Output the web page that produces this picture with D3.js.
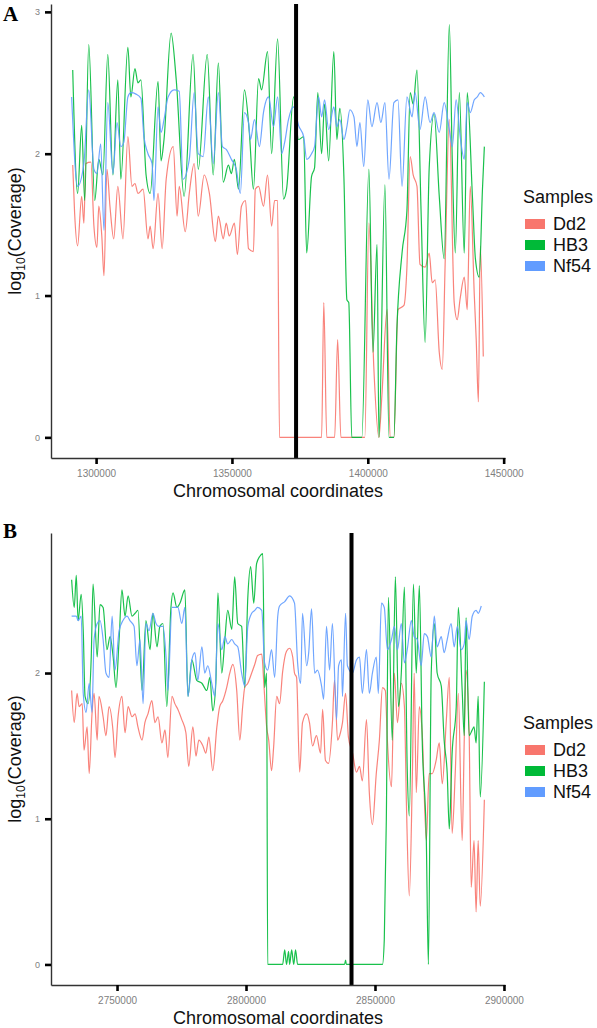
<!DOCTYPE html>
<html><head><meta charset="utf-8">
<script src="https://cdn.jsdelivr.net/npm/d3@7"></script>
<style>body{margin:0;background:#fff;} svg{display:block;}</style>
</head><body>
<svg id="chart" width="597" height="1028"></svg>
<script>
// ---------- DATA ----------
const samples = ["Dd2", "HB3", "Nf54"];
const sampleColors = ["#F8766D", "#00BA38", "#619CFF"];

const xTicksA = [1300000, 1350000, 1400000, 1450000];
const yTicksA = [0, 1, 2, 3];
const markerA = 1373600;

const xTicksB = [2750000, 2800000, 2850000, 2900000];
const yTicksB = [0, 1, 2];
const markerB = 2840900;

// [chromosomal coordinate, log10(coverage)]
const dd2A = [[1291400,1.92],[1292100,1.58],[1293200,1.35],[1294700,1.70],[1295500,1.51],[1296200,1.93],[1298100,1.94],[1299200,1.49],[1300300,1.34],[1301000,1.63],[1302100,1.42],[1302900,1.14],[1304000,1.89],[1305100,1.63],[1306500,1.40],[1308000,1.77],[1309900,1.40],[1311700,2.12],[1313200,1.77],[1314300,1.79],[1315400,1.72],[1317300,1.75],[1319100,1.40],[1319900,1.49],[1321000,1.33],[1322800,1.72],[1324300,1.33],[1325800,1.82],[1328400,2.05],[1329800,1.56],[1330600,1.77],[1332800,1.45],[1334300,1.72],[1336100,1.93],[1337600,1.56],[1339800,1.85],[1341700,1.72],[1343900,1.38],[1345000,1.56],[1346800,1.40],[1347900,1.51],[1349000,1.42],[1350900,1.51],[1352000,1.29],[1353500,1.63],[1355000,1.67],[1356100,1.33],[1357900,1.31],[1358600,1.75],[1359800,1.77],[1361600,1.63],[1363100,1.85],[1364600,1.49],[1365700,1.67],[1366800,1.67],[1367500,0],[1383000,0],[1383800,0.95],[1384900,0],[1387800,0],[1388900,0.69],[1390100,0],[1398900,0],[1400400,1.51],[1402200,0.50],[1404100,0],[1405200,0.30],[1407100,0.90],[1408200,0],[1409600,0],[1411100,0.90],[1413300,0.93],[1414400,1.20],[1415600,1.98],[1416700,1.85],[1418100,1.77],[1419200,1.22],[1421100,1.20],[1422600,1.30],[1423700,1.09],[1424800,1.11],[1426300,0.60],[1427400,0.48],[1428500,1.25],[1430000,2.24],[1431800,0.95],[1432900,0.83],[1434000,0.98],[1435500,1.13],[1436600,0.90],[1437700,1.77],[1439200,1.00],[1439900,0.69],[1440700,0.25],[1441400,1.35],[1442500,0.57]];

const hb3A = [[1291400,2.59],[1293200,1.72],[1294700,2.20],[1295800,1.67],[1297300,2.77],[1299500,1.67],[1301000,1.96],[1302500,1.85],[1304300,2.70],[1306200,1.85],[1308000,2.52],[1309100,1.82],[1311700,2.75],[1312800,2.40],[1314300,2.60],[1315400,2.50],[1316500,2.52],[1318400,1.85],[1319900,1.72],[1322800,2.51],[1323900,1.95],[1325000,2.10],[1327600,2.85],[1329500,2.52],[1332400,1.70],[1335700,2.70],[1337600,1.89],[1340900,2.70],[1343100,1.85],[1345000,2.64],[1346800,1.80],[1348700,1.92],[1349800,1.86],[1350900,1.96],[1352400,1.75],[1354600,2.45],[1356400,2.15],[1357900,1.75],[1359800,2.53],[1360900,2.45],[1363100,2.72],[1364600,2.00],[1366800,2.81],[1369000,1.68],[1370100,1.75],[1372700,2.40],[1374500,2.10],[1376400,2.12],[1377500,1.30],[1379300,1.84],[1380400,1.90],[1381600,2.43],[1383000,2.00],[1384100,2.35],[1385600,1.95],[1387500,2.72],[1388600,2.10],[1389700,2.32],[1391200,1.84],[1392300,0.97],[1393000,0.95],[1394100,0],[1397800,0],[1400400,1.89],[1401900,0.60],[1403400,1.36],[1404100,0],[1406300,1.78],[1407800,0],[1409600,0],[1410700,0.76],[1412600,1.30],[1414400,1.60],[1415600,2.43],[1416700,2.35],[1418100,2.59],[1419600,1.60],[1421100,0.67],[1422600,1.90],[1424400,2.28],[1426300,1.70],[1428100,1.26],[1430000,2.91],[1431100,1.95],[1432200,1.30],[1433700,2.43],[1435500,1.30],[1436600,2.43],[1438500,1.70],[1439600,1.26],[1441000,1.13],[1442200,1.75],[1442900,2.05]];

const nf54A = [[1291000,2.40],[1293200,1.77],[1295500,1.93],[1297300,2.45],[1299200,1.89],[1300300,1.86],[1301700,2.07],[1302900,1.46],[1304300,2.36],[1306200,1.86],[1307700,2.22],[1309100,2.05],[1310200,2.08],[1311700,2.40],[1312800,2.43],[1314700,2.42],[1316500,2.39],[1317600,2.12],[1319100,2.00],[1320600,1.93],[1321300,1.67],[1322800,2.33],[1323900,2.15],[1325000,2.24],[1326500,2.40],[1328700,2.45],[1330600,2.44],[1332000,1.82],[1334300,1.96],[1336100,2.43],[1337600,2.00],[1339400,1.98],[1341300,2.40],[1343100,1.93],[1345000,2.43],[1346500,2.05],[1347900,2.03],[1349800,1.96],[1351600,1.89],[1353100,1.72],[1354600,2.29],[1356100,2.22],[1356800,2.10],[1358300,2.24],[1360100,2.05],[1361600,2.29],[1363500,2.40],[1365300,2.19],[1366800,2.40],[1368300,2.00],[1369400,2.08],[1370800,2.24],[1372700,2.33],[1374500,2.20],[1376400,2.12],[1377500,1.96],[1379300,2.00],[1380400,2.05],[1381900,2.40],[1383000,2.26],[1384100,2.38],[1385600,2.17],[1387500,2.33],[1388600,2.19],[1389700,2.24],[1391200,2.10],[1392300,2.19],[1393400,2.31],[1394900,2.26],[1396000,2.05],[1397100,2.22],[1398500,1.91],[1400000,2.38],[1401500,2.19],[1403400,2.36],[1404800,2.22],[1406300,2.36],[1407800,1.82],[1409600,2.36],[1411100,2.38],[1412600,1.77],[1414400,2.40],[1416300,2.26],[1417400,2.43],[1419200,2.17],[1421100,2.40],[1422900,2.22],[1424400,2.29],[1426300,2.15],[1428100,2.36],[1430000,2.17],[1431100,2.05],[1432500,2.38],[1434000,2.12],[1435500,1.96],[1436600,2.36],[1437700,2.29],[1439200,2.38],[1440300,2.40],[1441400,2.43],[1442900,2.40]];

const dd2B = [[2732400,1.88],[2733400,1.66],[2734500,1.86],[2735300,1.77],[2736500,1.79],[2737200,1.47],[2738400,1.63],[2739200,1.31],[2740300,1.72],[2741100,1.86],[2742300,1.54],[2743000,1.84],[2744600,1.70],[2745700,1.57],[2746900,1.77],[2748500,1.59],[2749200,1.42],[2750400,1.70],[2751900,1.84],[2753100,1.59],[2754300,1.77],[2755800,1.70],[2757000,1.72],[2758100,1.63],[2759700,1.54],[2760800,1.66],[2762000,1.72],[2763500,1.81],[2764700,1.66],[2765900,1.70],[2767400,1.52],[2768600,1.61],[2769700,1.42],[2771300,1.84],[2772400,1.79],[2773600,1.75],[2775100,1.68],[2776700,1.59],[2777800,1.36],[2779400,1.63],[2780600,1.43],[2781700,1.54],[2783300,1.50],[2784400,1.45],[2785600,1.56],[2787100,1.33],[2788700,1.63],[2789800,1.77],[2791000,1.81],[2792500,1.90],[2793700,2.00],[2794900,2.06],[2796400,1.88],[2797600,1.54],[2798700,1.77],[2799500,1.90],[2800700,1.93],[2802200,2.00],[2803400,2.06],[2804500,2.12],[2806100,2.13],[2806900,1.93],[2808000,1.63],[2808800,1.54],[2809900,1.33],[2810700,1.49],[2811900,1.84],[2813000,1.79],[2814200,2.01],[2815700,2.15],[2816900,2.17],[2818100,2.11],[2818800,2.00],[2819600,1.97],[2820800,1.32],[2821900,1.66],[2823500,1.72],[2824600,1.66],[2825800,1.50],[2827300,1.57],[2828900,1.45],[2829700,1.75],[2830800,1.40],[2832000,1.38],[2833500,1.66],[2834300,1.95],[2835500,1.54],[2836600,1.59],[2837400,1.66],[2838600,1.86],[2839700,1.56],[2841300,1.45],[2842800,1.32],[2844000,1.36],[2845100,1.26],[2846700,1.68],[2847800,1.18],[2849000,0.96],[2850500,1.31],[2851700,1.54],[2852900,1.90],[2854000,1.88],[2854800,1.54],[2856400,1.22],[2857500,2.00],[2858700,1.66],[2860200,1.93],[2861400,1.77],[2862200,1.09],[2863300,0.47],[2864500,1.31],[2865200,2.00],[2866000,1.18],[2867200,1.77],[2868300,1.59],[2869900,0.85],[2871000,1.31],[2872200,1.31],[2873700,1.40],[2874900,1.52],[2876100,1.24],[2877600,1.66],[2878800,1.97],[2879900,0.90],[2881100,1.31],[2882300,1.86],[2883800,0.85],[2884600,1.54],[2885300,2.02],[2886500,1.59],[2887300,0.53],[2888400,0.85],[2889200,0.36],[2890000,0.85],[2890800,0.40],[2892400,1.13]];

const hb3B = [[2732400,2.64],[2733400,2.45],[2734200,2.67],[2734900,2.36],[2736100,2.54],[2736900,2.29],[2737600,1.84],[2738800,1.79],[2740000,2.11],[2740700,2.61],[2742300,2.11],[2743400,2.47],[2744600,2.45],[2746100,2.16],[2747300,2.25],[2748500,2.11],[2749600,1.90],[2750800,2.23],[2751900,2.57],[2753100,2.39],[2754300,2.53],[2755800,2.39],[2757000,2.41],[2758100,2.43],[2759700,1.88],[2761200,2.36],[2762800,2.16],[2763900,2.41],[2765500,2.18],[2766600,2.32],[2767800,2.34],[2769300,1.77],[2770900,2.45],[2771700,2.55],[2773200,2.45],[2774400,2.48],[2776300,2.57],[2777500,1.84],[2779000,2.09],[2780900,1.95],[2782900,1.93],[2784800,1.88],[2786000,1.97],[2787100,1.74],[2788300,1.93],[2789100,2.55],[2790600,2.00],[2791800,2.23],[2792900,2.43],[2794500,2.30],[2795600,2.66],[2796800,2.34],[2798300,2.32],[2799500,1.90],[2800700,2.52],[2801800,2.73],[2803000,2.48],[2804100,2.75],[2805300,2.80],[2806500,2.82],[2807200,1.90],[2808000,2.00],[2808400,0],[2814200,0],[2815000,0.10],[2815700,0],[2816500,0.09],[2816900,0],[2817700,0.10],[2818500,0],[2819200,0.10],[2820000,0],[2838200,0],[2838600,0.03],[2838900,0],[2852900,0],[2853600,0.17],[2854400,1.00],[2855200,2.52],[2856700,1.54],[2857900,2.66],[2859100,1.77],[2860200,2.00],[2861400,2.59],[2862500,1.34],[2863300,1.02],[2864900,2.61],[2866000,2.00],[2867200,2.60],[2868300,1.54],[2869900,0.85],[2870700,0],[2871800,2.00],[2873000,2.34],[2874100,2.00],[2875700,1.91],[2876800,1.54],[2878000,1.31],[2878800,0.93],[2879900,1.45],[2881500,1.77],[2882300,2.45],[2883800,1.88],[2884600,1.57],[2885300,2.38],[2886500,1.57],[2887700,1.61],[2888400,1.63],[2889200,1.52],[2890000,1.84],[2890800,1.15],[2892400,1.94]];

const nf54B = [[2732400,2.39],[2734200,2.39],[2734900,2.36],[2736100,2.39],[2736900,1.86],[2738000,1.73],[2739200,1.93],[2740300,1.73],[2741100,2.23],[2742300,2.34],[2743400,2.36],[2744600,2.23],[2745700,2.00],[2746900,1.97],[2748100,2.39],[2749200,2.02],[2750800,2.29],[2752300,2.36],[2753900,2.39],[2755000,2.36],[2756600,2.32],[2757700,2.05],[2758900,2.23],[2760100,1.79],[2761200,2.34],[2762400,2.29],[2763900,2.41],[2765100,2.34],[2766200,2.32],[2767800,2.32],[2769000,2.11],[2769700,1.88],[2771300,2.45],[2772400,2.45],[2773600,2.45],[2775100,2.34],[2776300,2.45],[2777500,1.84],[2779000,2.09],[2780200,2.14],[2781300,1.95],[2782900,2.18],[2784000,2.00],[2785200,2.05],[2786700,1.93],[2787900,1.84],[2789100,2.34],[2790600,2.16],[2791800,2.25],[2792900,2.20],[2794500,2.23],[2795600,2.20],[2796800,2.18],[2798300,2.00],[2799500,1.91],[2800700,2.32],[2802200,2.41],[2803400,2.43],[2804500,2.45],[2806100,2.43],[2807200,2.07],[2808400,2.02],[2809900,2.16],[2811100,1.97],[2812300,2.39],[2813000,2.46],[2815000,2.49],[2816900,2.53],[2818800,2.48],[2820000,2.07],[2821200,1.93],[2821900,2.41],[2823500,2.05],[2824300,2.14],[2825400,2.44],[2826600,2.00],[2827700,2.02],[2829300,1.91],[2830100,1.82],[2831200,2.32],[2832400,2.02],[2833500,2.34],[2835100,1.68],[2835900,2.05],[2837000,2.09],[2837400,1.84],[2838600,2.41],[2839300,2.05],[2841300,2.00],[2842800,2.09],[2844000,2.11],[2845100,1.86],[2846700,2.16],[2847800,1.86],[2849000,2.00],[2850500,2.11],[2851300,1.86],[2852500,2.48],[2853600,2.45],[2854800,2.16],[2856400,2.23],[2857500,2.32],[2858700,2.16],[2860200,2.34],[2861400,2.07],[2862500,2.16],[2864100,2.36],[2865200,2.25],[2866400,2.23],[2867900,2.05],[2869100,2.27],[2870300,2.25],[2871800,2.11],[2873000,2.39],[2874100,2.18],[2875700,2.25],[2876800,2.14],[2878000,2.23],[2879500,2.34],[2880700,2.18],[2881900,2.32],[2883400,2.16],[2884600,2.20],[2885300,2.36],[2886500,2.23],[2887700,2.39],[2889200,2.43],[2890000,2.41],[2891200,2.46]];

// ---------- DRAWING ----------
const svg = d3.select("#chart");
const SANS = "'Liberation Sans', Arial, Helvetica, sans-serif";
const SERIF = "'Liberation Serif', 'Times New Roman', serif";

function expand(ext) { const r = ext[1] - ext[0]; return [ext[0] - 0.05 * r, ext[1] + 0.05 * r]; }

function drawPanel(cfg) {
  const g = svg.append("g");
  const all = cfg.series.flat();
  const x = d3.scaleLinear().domain(expand(d3.extent(all, d => d[0]))).range([cfg.left, cfg.right]);
  const y = d3.scaleLinear().domain(expand(d3.extent(all, d => d[1]))).range([cfg.bottom, cfg.top]);

  const line = d3.line().curve(d3.curveMonotoneX).x(d => x(d[0])).y(d => y(d[1]));
  cfg.series.forEach((s, i) => {
    g.append("path").datum(s)
      .attr("d", line)
      .attr("fill", "none")
      .attr("stroke", sampleColors[i])
      .attr("stroke-width", 1.2)
      .attr("stroke-linejoin", "round")
      .attr("opacity", 0.9);
  });

  // marker line
  g.append("line")
    .attr("x1", x(cfg.marker)).attr("x2", x(cfg.marker))
    .attr("y1", cfg.top).attr("y2", cfg.bottom)
    .attr("stroke", "#000").attr("stroke-width", 4);

  // axes
  const xa = g.append("g").attr("transform", `translate(0,${cfg.bottom})`)
    .call(d3.axisBottom(x).tickValues(cfg.xTicks).tickFormat(d3.format("d")).tickSize(6).tickSizeOuter(0).tickPadding(6));
  const ya = g.append("g").attr("transform", `translate(${cfg.left},0)`)
    .call(d3.axisLeft(y).tickValues(cfg.yTicks).tickFormat(d3.format("d")).tickSize(6).tickSizeOuter(0).tickPadding(5));
  [xa, ya].forEach(a => {
    a.select(".domain").attr("stroke", "#333").attr("stroke-width", 1.4);
    a.selectAll(".tick line").attr("stroke", "#000").attr("stroke-width", 2.6);
    a.selectAll(".tick text").attr("fill", "#808080").attr("font-family", SANS);
  });
  xa.selectAll(".tick text").attr("font-size", 10);
  ya.selectAll(".tick text").attr("font-size", 9);

  // axis titles
  g.append("text")
    .attr("x", (cfg.left + cfg.right) / 2).attr("y", cfg.bottom + 39)
    .attr("text-anchor", "middle").attr("font-family", SANS).attr("font-size", 18).attr("fill", "#111")
    .text("Chromosomal coordinates");
  const yt = g.append("text")
    .attr("transform", `translate(21,${(cfg.top + cfg.bottom) / 2}) rotate(-90)`)
    .attr("text-anchor", "middle").attr("font-family", SANS).attr("font-size", 18).attr("fill", "#111");
  yt.append("tspan").text("log");
  yt.append("tspan").attr("font-size", 12).attr("dy", 4).text("10");
  yt.append("tspan").attr("dy", -4).text("(Coverage)");

  // panel letter
  g.append("text").attr("x", 3).attr("y", cfg.letterY)
    .attr("font-family", SERIF).attr("font-weight", "bold").attr("font-size", 21).attr("fill", "#000")
    .text(cfg.letter);

  // legend
  const lg = g.append("g");
  lg.append("text").attr("x", 523).attr("y", cfg.legendTitleY)
    .attr("font-family", SANS).attr("font-size", 18).attr("fill", "#111").text("Samples");
  samples.forEach((name, i) => {
    const cy = cfg.legendItemY + i * cfg.legendStep;
    lg.append("rect").attr("x", 525).attr("y", cy - 5).attr("width", 20).attr("height", 10)
      .attr("fill", sampleColors[i]);
    lg.append("text").attr("x", 553).attr("y", cy + 6)
      .attr("font-family", SANS).attr("font-size", 18).attr("fill", "#111").text(name);
  });
}

drawPanel({
  series: [dd2A, hb3A, nf54A], xTicks: xTicksA, yTicks: yTicksA, marker: markerA,
  left: 51, right: 505, top: 4, bottom: 458,
  letter: "A", letterY: 21,
  legendTitleY: 203, legendItemY: 224, legendStep: 21
});
drawPanel({
  series: [dd2B, hb3B, nf54B], xTicks: xTicksB, yTicks: yTicksB, marker: markerB,
  left: 51, right: 505, top: 533, bottom: 985,
  letter: "B", letterY: 538,
  legendTitleY: 729, legendItemY: 750, legendStep: 21
});
</script>
</body></html>
